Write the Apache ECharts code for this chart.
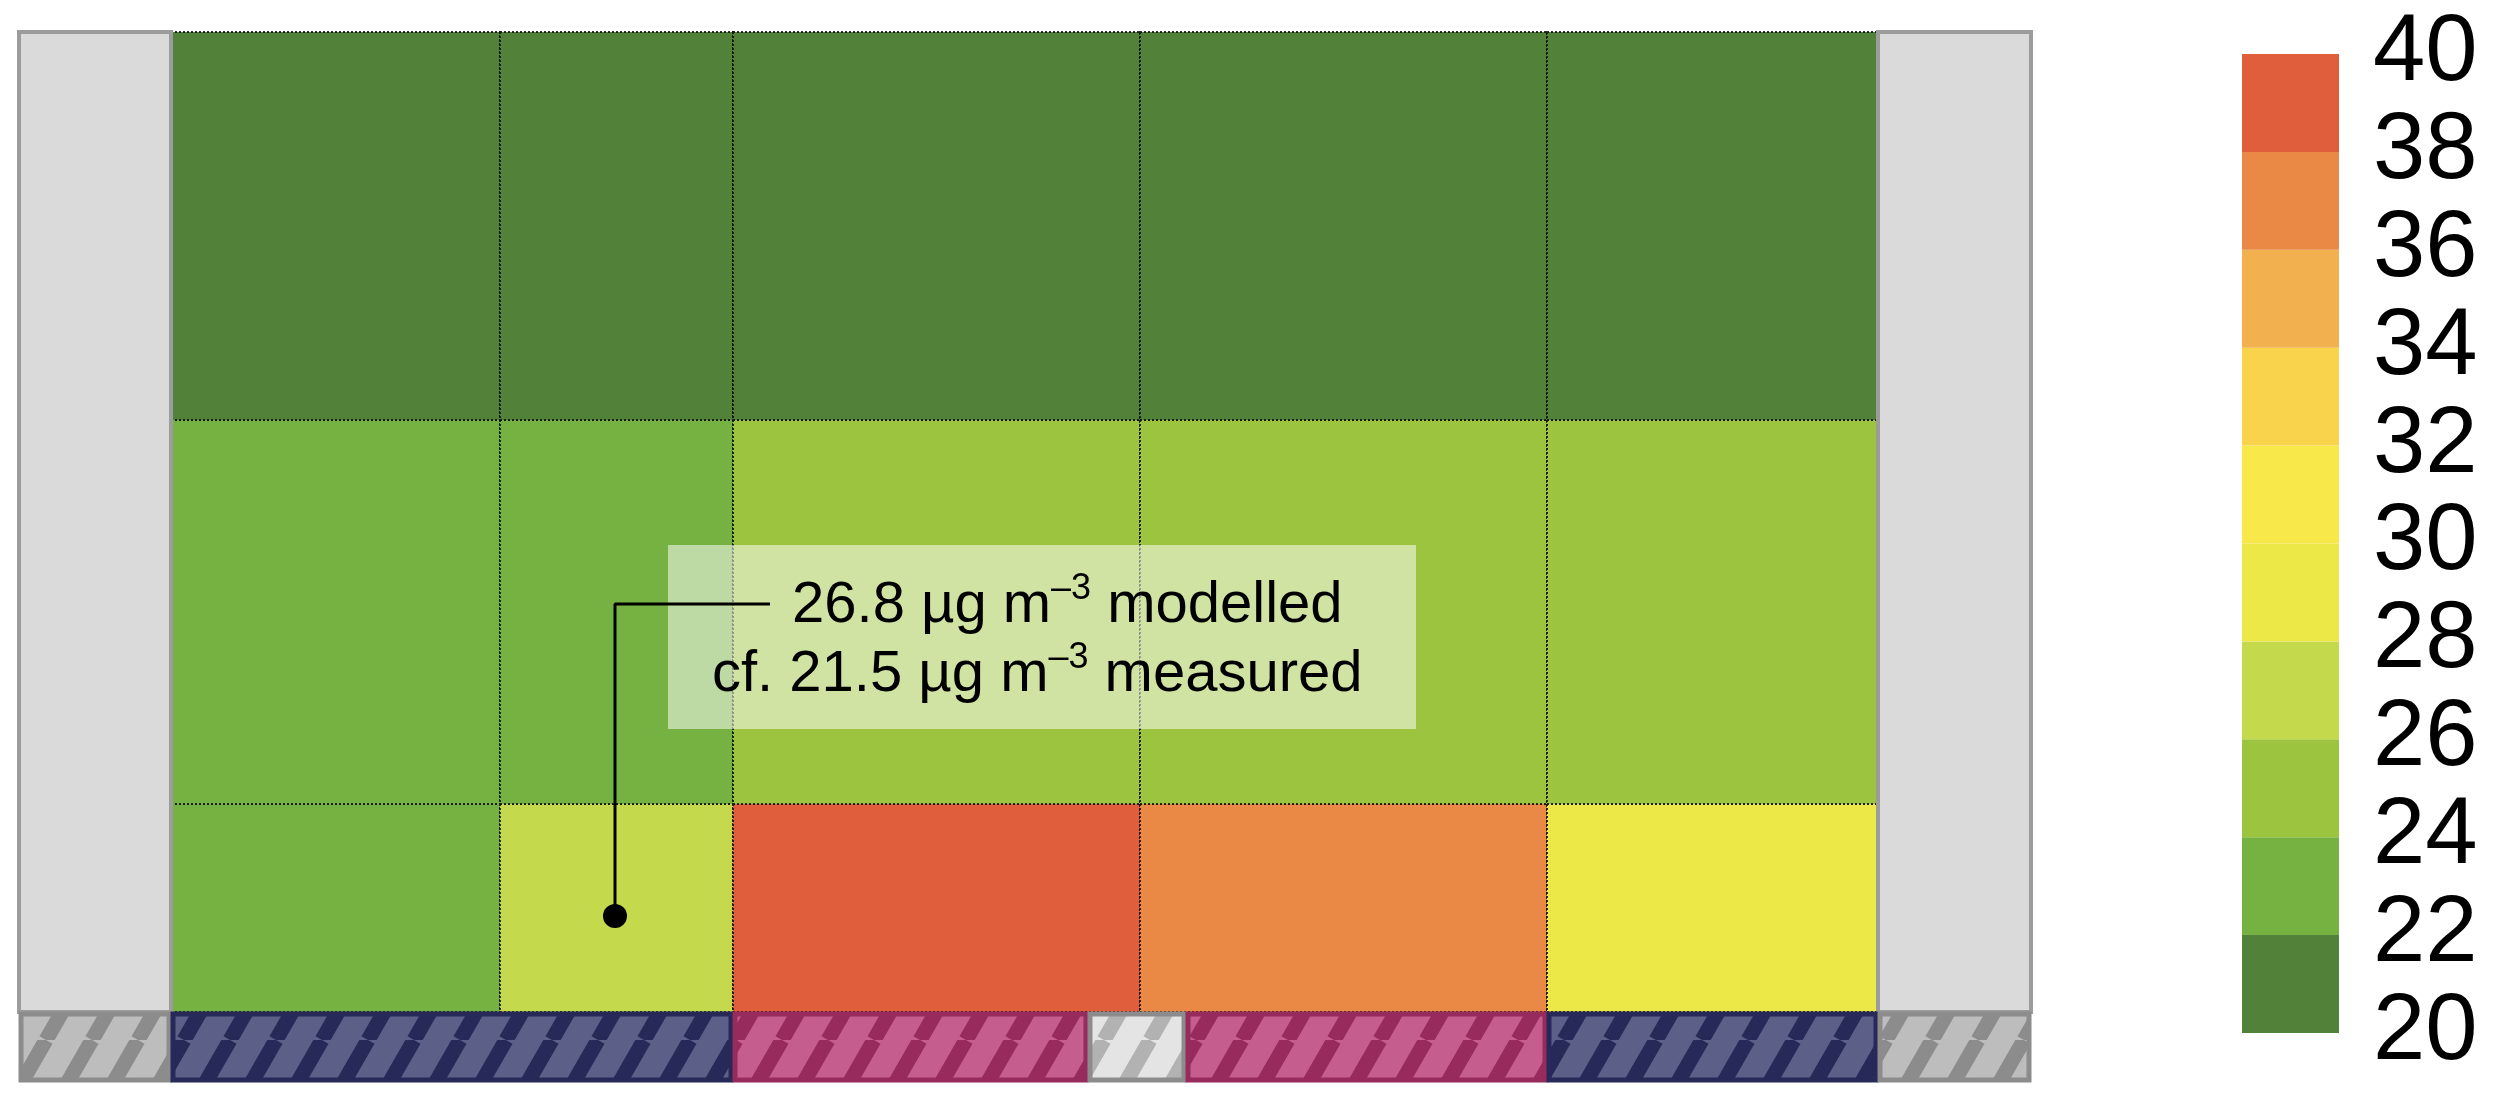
<!DOCTYPE html>
<html>
<head>
<meta charset="utf-8">
<script src="https://cdn.jsdelivr.net/npm/echarts@6/dist/echarts.min.js"></script>
<style>
  html, body { margin: 0; padding: 0; background: #fff; }
  #chart { width: 2511px; height: 1104px; }
</style>
</head>
<body>
<div id="chart"></div>
<script>
// model grid edges (x across the street, y height above ground)
var colEdges = [0, 32.9, 56.2, 96.9, 137.6, 170.7];
var rowEdges = [0, 20.8, 59.2, 98.0];
// modelled concentration (ug m-3), rows listed bottom to top
var rowValues = [
  [23.2, 26.8, 38.7, 36.9, 29.2],
  [23.1, 23.6, 24.6, 24.8, 24.4],
  [21.0, 21.2, 21.3, 21.2, 21.1]
];
// buildings either side of the street
var buildings = [[-15.2, 0], [170.7, 186.0]];
// ground strip under the street
var stripEdges = [-15.2, 0, 56.2, 91.7, 101.5, 137.6, 170.7, 186.0];
var stripTypes = ['building', 'navy', 'pink', 'gap', 'pink', 'navy', 'building'];
var stripDepth = -7;
// colour scale
var legendTicks = [20, 22, 24, 26, 28, 30, 32, 34, 36, 38, 40];
var bandColors = ['#52823a', '#76b241', '#9dc43f', '#c5d94c', '#ece848',
                  '#f9e84a', '#f9d34c', '#f2b04e', '#ea8946', '#e05e3c'];
// measurement site marker and its leader line
var marker = [44.4, 9.6];
var leader = [[44.4, 9.6], [44.4, 40.8], [59.9, 40.8]];

var stripStyles = {
  building: { base: '#bdbdbd', stripe: '#8c8c8c' },
  navy: { base: '#5c5f88', stripe: '#272958' },
  pink: { base: '#c55e8e', stripe: '#972b5d' },
  gap: { base: '#e4e4e4', stripe: '#b2b2b2', border: '#8c8c8c' }
};

function stripePattern(base, stripe) {
  var w = 46, h = 80;
  var c = document.createElement('canvas');
  c.width = w; c.height = h;
  var ctx = c.getContext('2d');
  ctx.fillStyle = base;
  ctx.fillRect(0, 0, w, h);
  ctx.strokeStyle = stripe;
  ctx.lineWidth = 15;
  for (var k = -1; k <= 1; k++) {
    ctx.beginPath();
    ctx.moveTo(k * w, h);
    ctx.lineTo(k * w + w, 0);
    ctx.stroke();
  }
  return { image: c, repeat: 'repeat' };
}

var cellData = [];
rowValues.forEach(function (row, r) {
  row.forEach(function (v, c) {
    cellData.push([colEdges[c], colEdges[c + 1], rowEdges[r], rowEdges[r + 1], v]);
  });
});

var buildingData = buildings.map(function (b) {
  return [b[0], b[1], 0, rowEdges[rowEdges.length - 1]];
});

var stripData = stripTypes.map(function (t, i) {
  return [stripEdges[i], stripEdges[i + 1], stripDepth, 0, i];
});

var legendData = bandColors.map(function (c, i) {
  return [0, 1, legendTicks[i], legendTicks[i + 1], (legendTicks[i] + legendTicks[i + 1]) / 2];
});

function rectFrom(api) {
  var p0 = api.coord([api.value(0), api.value(3)]);
  var p1 = api.coord([api.value(1), api.value(2)]);
  return { x: p0[0], y: p0[1], width: p1[0] - p0[0], height: p1[1] - p0[1] };
}

var chart = echarts.init(document.getElementById('chart'));

var font = '"Liberation Sans", Arial, Helvetica, sans-serif';

chart.setOption({
  animation: false,
  grid: [
    { left: 19, right: 480, top: 32, bottom: 22 },
    { left: 2242, top: 54, width: 97, height: 979 }
  ],
  xAxis: [
    { type: 'value', min: -15.2, max: 186.0, show: false, gridIndex: 0 },
    { type: 'value', min: 0, max: 1, show: false, gridIndex: 1 }
  ],
  yAxis: [
    { type: 'value', min: stripDepth, max: 98.0, show: false, gridIndex: 0 },
    {
      type: 'value', gridIndex: 1, min: 20, max: 40, interval: 2, position: 'right',
      axisLine: { show: false }, axisTick: { show: false }, splitLine: { show: false },
      axisLabel: { fontSize: 94, color: '#000', fontFamily: font, margin: 34, padding: [8, 0, 0, 0] }
    }
  ],
  visualMap: {
    type: 'piecewise',
    show: false,
    dimension: 4,
    seriesIndex: [0, 3],
    pieces: bandColors.map(function (c, i) {
      return { gte: legendTicks[i], lt: legendTicks[i + 1], color: c };
    })
  },
  series: [
    {
      name: 'cells',
      type: 'custom',
      xAxisIndex: 0, yAxisIndex: 0,
      encode: { x: [0, 1], y: [2, 3] },
      data: cellData,
      z: 2,
      renderItem: function (params, api) {
        return {
          type: 'rect',
          shape: rectFrom(api),
          style: { fill: api.visual('color'), stroke: 'rgba(15,15,15,0.85)', lineWidth: 2, lineDash: [2, 2] }
        };
      }
    },
    {
      name: 'buildings',
      type: 'custom',
      xAxisIndex: 0, yAxisIndex: 0,
      encode: { x: [0, 1], y: [2, 3] },
      data: buildingData,
      z: 3,
      renderItem: function (params, api) {
        return {
          type: 'rect',
          shape: rectFrom(api),
          style: { fill: '#dadada', stroke: '#9c9c9c', lineWidth: 4 }
        };
      }
    },
    {
      name: 'strip',
      type: 'custom',
      xAxisIndex: 0, yAxisIndex: 0,
      encode: { x: [0, 1], y: [2, 3] },
      data: stripData,
      z: 3,
      renderItem: function (params, api) {
        var s = stripStyles[stripTypes[api.value(4)]];
        var r = rectFrom(api);
        return {
          type: 'rect',
          shape: { x: r.x + 2, y: r.y + 2, width: r.width - 4, height: r.height - 4 },
          style: { fill: stripePattern(s.base, s.stripe), stroke: s.border || s.stripe, lineWidth: 5 }
        };
      }
    },
    {
      name: 'legend',
      type: 'custom',
      xAxisIndex: 1, yAxisIndex: 1,
      encode: { x: [0, 1], y: [2, 3] },
      data: legendData,
      renderItem: function (params, api) {
        return { type: 'rect', shape: rectFrom(api), style: { fill: api.visual('color') } };
      }
    },
    {
      name: 'leader',
      type: 'line',
      xAxisIndex: 0, yAxisIndex: 0,
      data: leader,
      showSymbol: false,
      z: 6,
      lineStyle: { color: '#000', width: 3 },
      silent: true
    },
    {
      name: 'site',
      type: 'scatter',
      xAxisIndex: 0, yAxisIndex: 0,
      data: [marker],
      symbolSize: 24,
      z: 6,
      itemStyle: { color: '#000', opacity: 1 }
    }
  ],
  graphic: [
    {
      type: 'rect', z: 4,
      shape: { x: 668, y: 545, width: 748, height: 184 },
      style: { fill: 'rgba(255,255,255,0.52)' }
    },
    {
      type: 'text', z: 7, x: 792, y: 571,
      style: {
        text: '{n|26.8 µg m}{s|–3}{n| modelled}',
        verticalAlign: 'top',
        rich: {
          n: { fontSize: 58, lineHeight: 70, fontFamily: font, fill: '#000' },
          s: { fontSize: 36, lineHeight: 58, fontFamily: font, fill: '#000', verticalAlign: 'top' }
        }
      }
    },
    {
      type: 'text', z: 7, x: 712, y: 640,
      style: {
        text: '{n|cf. 21.5 µg m}{s|–3}{n| measured}',
        verticalAlign: 'top',
        rich: {
          n: { fontSize: 58, lineHeight: 70, fontFamily: font, fill: '#000' },
          s: { fontSize: 36, lineHeight: 58, fontFamily: font, fill: '#000', verticalAlign: 'top' }
        }
      }
    }
  ]
});
</script>
</body>
</html>
